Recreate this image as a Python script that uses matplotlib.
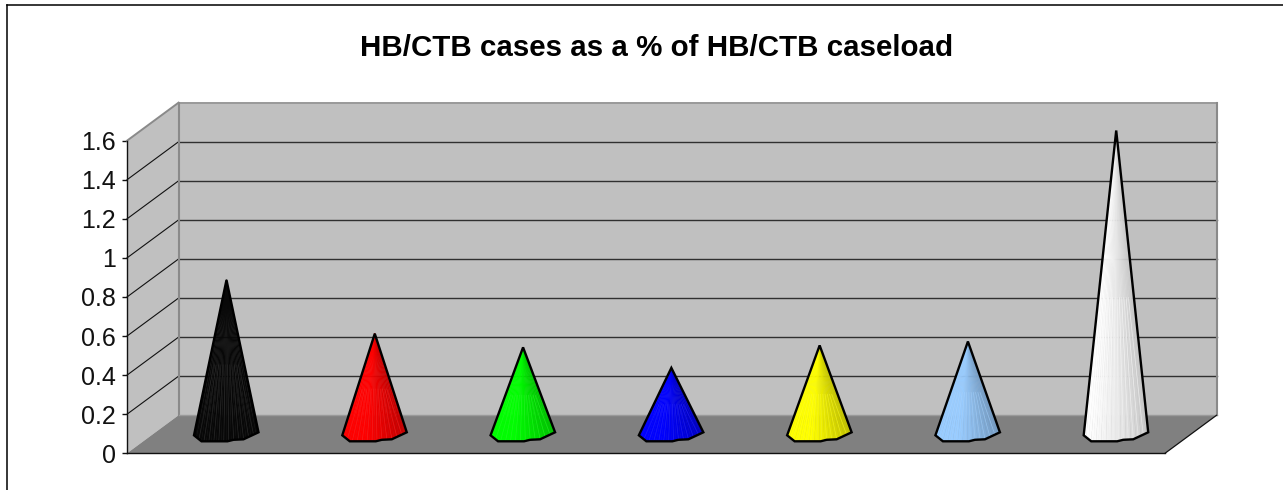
import matplotlib
matplotlib.use("Agg")
import matplotlib.pyplot as plt
import numpy as np
from matplotlib.lines import Line2D
from matplotlib.patches import Polygon
from matplotlib.colors import to_rgb

plt.rcParams['font.family'] = ['Liberation Sans', 'DejaVu Sans']

title = "HB/CTB cases as a % of HB/CTB caseload"
categories = ["A", "B", "C", "D", "E", "F", "G"]
values = [0.79, 0.515, 0.445, 0.34, 0.455, 0.475, 1.555]
colors = ["#000000", "#FF0000", "#00FF00", "#0000FF", "#FFFF00", "#99CCFF", "#FFFFFF"]
yticks = [0, 0.2, 0.4, 0.6, 0.8, 1.0, 1.2, 1.4, 1.6]
yticklabels = ["0", "0.2", "0.4", "0.6", "0.8", "1", "1.2", "1.4", "1.6"]

W, H = 1283, 490
fig = plt.figure(figsize=(W / 100, H / 100), dpi=100, facecolor="white")
L, R, T, B = 127, 1165, 140.7, 453.3
ax = fig.add_axes([L / W, 1 - B / H, (R - L) / W, (B - T) / H])
ax.set_xlim(-0.5, 6.5)
ax.set_ylim(0, 1.6)
ax.patch.set_visible(False)

px_x = (R - L) / 7
px_y = (B - T) / 1.6
DX = 51.5 / px_x
DY = 38 / px_y
x0, x1, y1 = -0.5, 6.5, 1.6

# walls and floor
WALL, FLOOR, EDGE = "#C0C0C0", "#808080", "#8A8A8A"
ax.add_patch(Polygon([(x0 + DX, DY), (x1 + DX, DY), (x1 + DX, y1 + DY), (x0 + DX, y1 + DY)],
                     fc=WALL, ec="none", zorder=1, clip_on=False))
ax.add_patch(Polygon([(x0, 0), (x0 + DX, DY), (x0 + DX, y1 + DY), (x0, y1)],
                     fc=WALL, ec="none", zorder=1, clip_on=False))
for v in yticks[1:-1]:
    ax.plot([x0 + DX, x1 + DX], [v + DY, v + DY], color="#303030", lw=1.0, zorder=2, clip_on=False)
    ax.plot([x0, x0 + DX], [v, v + DY], color="#111111", lw=0.8, zorder=2, clip_on=False)
ax.plot([x0 + DX, x1 + DX], [y1 - 0.0 + DY] * 2, color="#999999", lw=1.4, zorder=3, clip_on=False)
ax.plot([x0, x0 + DX], [y1, y1 + DY], color=EDGE, lw=1.4, zorder=3, clip_on=False)
ax.plot([x0 + DX, x0 + DX], [DY, y1 + DY], color=EDGE, lw=1.5, zorder=3, clip_on=False)
ax.plot([x1 + DX, x1 + DX], [DY, y1 + DY], color=EDGE, lw=1.5, zorder=3, clip_on=False)
ax.add_patch(Polygon([(x0, 0), (x0 + DX, DY), (x1 + DX, DY), (x1, 0)],
                     fc=FLOOR, ec="none", zorder=3, clip_on=False))
ax.plot([x0 + DX, x1 + DX], [DY, DY], color="#9A9A9A", lw=1.0, zorder=3, clip_on=False)
ax.plot([x1, x1 + DX], [0, DY], color="#111111", lw=0.9, zorder=6, clip_on=False)

# cones: faceted fan from the apex to an irregular base outline
base_px_x = np.array([-32.5, -25, 1, 7, 17, 32])
base_px_y = np.array([1.0, 7.0, 7.0, 5.5, 5.0, -2.0])
n_f = 26
t = np.linspace(0, 1, n_f + 1)
kn = (base_px_x - base_px_x[0]) / (base_px_x[-1] - base_px_x[0])
bx = np.interp(t, kn, base_px_x) / px_x
by = np.interp(t, kn, base_px_y) / px_y

for i, (v, c) in enumerate(zip(values, colors)):
    rgb = np.array(to_rgb(c))
    cx, ytop = i + DX / 2 - 0.4 / px_x, v + DY / 2
    ybase = DY / 2
    for k in range(n_f):
        s = (k + 0.5) / n_f
        shade = 1.0 if s < 0.35 else 1.0 - 0.24 * (s - 0.35) / 0.65
        if c == "#FFFFFF":
            shade = 1.0 - 0.22 * s ** 1.4
        col = rgb * shade
        if c == "#000000":
            col = np.array([0.03, 0.03, 0.03])
        poly = [(cx, ytop), (cx + bx[k], ybase - by[k]), (cx + bx[k + 1], ybase - by[k + 1])]
        ax.add_patch(Polygon(poly, fc=col, ec=col, lw=0.3, zorder=4, clip_on=False))
    for k in range(2, n_f, 2):
        seam = rgb * 0.85 + 0.15 if c != "#000000" else np.array([0.2, 0.2, 0.2])
        ax.plot([cx + 0.45 * bx[k], cx + bx[k]], [ytop + 0.55 * (ybase - ytop), ybase - by[k]],
                color=seam, lw=0.5, alpha=0.6, zorder=4.5, clip_on=False)
    outline = [(cx, ytop)] + [(cx + x, ybase - y) for x, y in zip(base_px_x / px_x, base_px_y / px_y)]
    ax.add_patch(Polygon(outline, closed=True, fc="none", ec="black", lw=1.7, joinstyle="miter",
                         zorder=5, clip_on=False))

# axes
for s in ("top", "right"):
    ax.spines[s].set_visible(False)
for s in ("left", "bottom"):
    ax.spines[s].set_color("#111111")
    ax.spines[s].set_linewidth(1.0)
    ax.spines[s].set_zorder(7)
ax.set_xticks([])
ax.set_yticks(yticks)
ax.set_yticklabels(yticklabels, fontsize=18, color="#111111")
ax.tick_params(axis="y", length=3.6, width=1.0, pad=4.5, color="#111111")

fig.text(656.5 / W, 1 - 48 / H, title, ha="center", va="center", fontsize=21.25, fontweight="bold", color="black")

# chart frame
fig.add_artist(Line2D([7 / W, 7 / W], [0, 1 - 5.5 / H], color="black", lw=1.1))
fig.add_artist(Line2D([7 / W, 1], [1 - 5.5 / H, 1 - 5.5 / H], color="black", lw=1.1))

fig.savefig("out.png", dpi=100, facecolor="white")
